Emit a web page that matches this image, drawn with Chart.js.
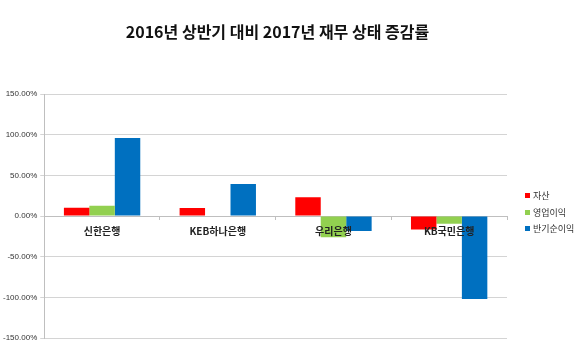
<!DOCTYPE html>
<html>
<head>
<meta charset="utf-8">
<script src="https://cdn.jsdelivr.net/npm/chart.js@4.4.1/dist/chart.umd.min.js"></script>
<style>
    html, body { margin: 0; padding: 0; background: #fff; }
    .wrap { position: relative; width: 580px; height: 354px; }
    .chart-title {
        position: absolute; left: 0; top: 19px; width: 555px;
        text-align: center; font: bold 16px "Noto Sans CJK KR", sans-serif; color: #111;
        margin: 0;
    }
    canvas { position: absolute; left: 0; top: 0; }
    .legend { position: absolute; left: 525px; top: 189px; margin: 0; padding: 0; list-style: none; }
    .legend li {
        height: 16.7px; line-height: 13px; white-space: nowrap;
        font: 9px "Noto Sans CJK KR", sans-serif; color: #333;
    }
    .legend i { display: inline-block; width: 5px; height: 5px; margin-right: 3px; vertical-align: 1px; }
</style>
</head>
<body>
<div class="wrap">
    <canvas id="chart" width="580" height="354"></canvas>
    <h1 class="chart-title">2016년 상반기 대비 2017년 재무 상태 증감률</h1>
    <ul class="legend" id="legend"></ul>
</div>
<script>
const banks = ['신한은행', 'KEB하나은행', '우리은행', 'KB국민은행'];
const assets = [10.2, 9.8, 22.9, -16.5];       // 자산
const operatingIncome = [12.7, 0, -26, -9.5]; // 영업이익
const netIncome = [96, 39.4, -18.5, -102];    // 반기순이익
const yTicks = [-150, -100, -50, 0, 50, 100, 150];

const gridGray = '#d4d4d4';
const axisGray = '#bfbfbf';
const cjk = '"Noto Sans CJK KR", sans-serif';

const chart = new Chart(document.getElementById('chart'), {
    type: 'bar',
    data: {
        labels: banks,
        datasets: [
            { label: '자산', data: assets, backgroundColor: '#ff0000' },
            { label: '영업이익', data: operatingIncome, backgroundColor: '#92d050' },
            { label: '반기순이익', data: netIncome, backgroundColor: '#0070c0' }
        ]
    },
    options: {
        responsive: false,
        animation: false,
        layout: { padding: { top: 94, bottom: 16, left: 0, right: 73 } },
        datasets: { bar: { categoryPercentage: 0.66, barPercentage: 1, borderWidth: 0 } },
        plugins: {
            title: { display: false },
            tooltip: { enabled: false },
            legend: { display: false }
        },
        scales: {
            x: {
                position: { y: 0 },
                grid: { offset: true, drawOnChartArea: false, tickLength: 3, color: axisGray },
                border: { color: axisGray },
                ticks: { z: 1, color: '#222', padding: 6, font: { family: cjk, size: 10, weight: 'bold' } }
            },
            y: {
                min: -150, max: 150,
                afterBuildTicks: (axis) => { axis.ticks = yTicks.map(v => ({ value: v })); },
                grid: { color: gridGray, tickLength: 4, lineWidth: 1 },
                border: { color: axisGray },
                ticks: {
                    color: '#333', padding: 3,
                    font: { family: '"Liberation Sans", Arial, sans-serif', size: 8 },
                    callback: (v) => v.toFixed(2) + '%'
                }
            }
        }
    }
});

// legend built from the chart's own datasets
const legend = document.getElementById('legend');
chart.data.datasets.forEach(ds => {
    const li = document.createElement('li');
    li.innerHTML = `<i style="background:${ds.backgroundColor}"></i>${ds.label}`;
    legend.appendChild(li);
});
</script>
</body>
</html>
